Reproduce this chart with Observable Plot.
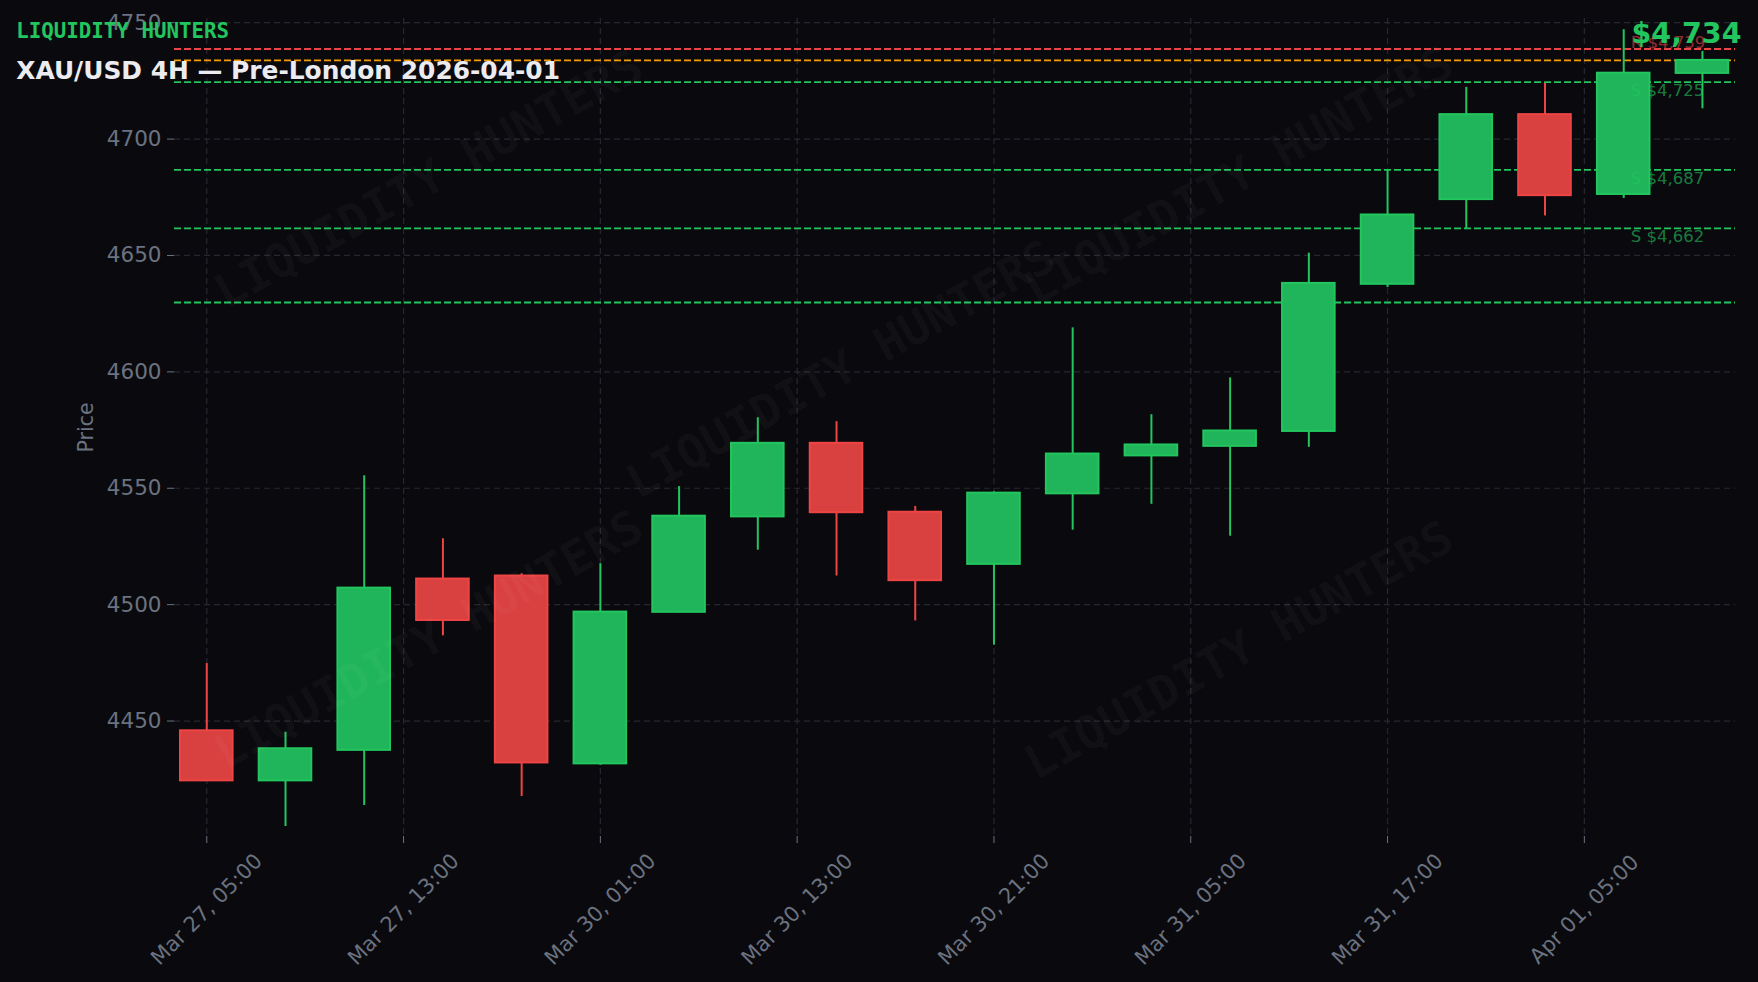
<!DOCTYPE html>
<html>
<head>
<meta charset="utf-8">
<script src="https://cdn.jsdelivr.net/npm/d3@7"></script>
<script src="https://cdn.jsdelivr.net/npm/@observablehq/plot@0.6"></script>
<style>
  html, body { margin: 0; padding: 0; background: #0a0a0e; }
  #chart { width: 1758px; height: 982px; overflow: hidden; }
</style>
</head>
<body>
<div id="chart"></div>
<script>
// ---- data ----
const times = ["Mar 27, 05:00","Mar 27, 09:00","Mar 27, 13:00","Mar 27, 17:00","Mar 27, 21:00",
  "Mar 30, 01:00","Mar 30, 05:00","Mar 30, 09:00","Mar 30, 13:00","Mar 30, 17:00","Mar 30, 21:00",
  "Mar 31, 01:00","Mar 31, 05:00","Mar 31, 09:00","Mar 31, 13:00","Mar 31, 17:00","Mar 31, 21:00",
  "Apr 01, 01:00","Apr 01, 05:00","Apr 01, 09:00"];
const open  = [4445.8, 4424.3, 4437.4, 4511.0, 4512.3, 4431.6, 4496.7, 4537.7, 4569.3, 4539.7,
               4517.3, 4547.6, 4563.9, 4568.0, 4574.4, 4637.6, 4674.0, 4710.5, 4676.2, 4728.2];
const high  = [4474.7, 4445.2, 4555.4, 4528.3, 4513.3, 4517.6, 4550.7, 4580.3, 4578.6, 4542.2,
               4548.5, 4618.9, 4581.6, 4597.4, 4651.0, 4686.6, 4722.2, 4723.9, 4747.0, 4737.6];
const low   = [4424.0, 4404.7, 4413.7, 4486.6, 4417.6, 4431.0, 4496.5, 4523.4, 4512.3, 4493.0,
               4482.6, 4532.0, 4543.1, 4529.4, 4567.6, 4636.2, 4661.5, 4667.0, 4674.5, 4713.0];
const close = [4424.3, 4438.1, 4507.1, 4493.2, 4432.0, 4496.8, 4538.0, 4569.3, 4539.5, 4510.3,
               4547.9, 4564.7, 4568.6, 4574.6, 4638.0, 4667.4, 4710.5, 4675.7, 4728.3, 4733.8];

const xTickPos    = [0, 2.5, 5, 7.5, 10, 12.5, 15, 17.5];
const xTickLabels = ["Mar 27, 05:00","Mar 27, 13:00","Mar 30, 01:00","Mar 30, 13:00",
                     "Mar 30, 21:00","Mar 31, 05:00","Mar 31, 17:00","Apr 01, 05:00"];
const yTicks = [4450, 4500, 4550, 4600, 4650, 4700, 4750];

const resistanceLevels = [4738.7];
const resistanceLabels = ["R $4,739"];
const supportLevels = [4724.5, 4686.8, 4661.6, 4629.8];
const supportLabels = ["S $4,725", "S $4,687", "S $4,662", null];
const currentPrice = 4733.8;
const currentLabel = "$4,734";

const brand = "LIQUIDITY HUNTERS";
const title = "XAU/USD 4H — Pre-London 2026-04-01";

// ---- styling / layout ----
const W = 1758, H = 982;
const ML = 174, MR = 23, MT = 18, MB = 146;
const FW = W - ML - MR, FH = H - MT - MB;
const GREEN = "#22c55e", GREEN_FILL = "#20b55a";
const RED = "#ef4444", RED_FILL = "#d94040";
const ORANGE = "#f59e0b";
const GRID = "#272730";
const AXIS = "#6b7280";
const BW = 0.668;
const FONT = "DejaVu Sans, sans-serif";
const MONO = "DejaVu Sans Mono, monospace";

const candles = open.map((o, i) => ({
  i, o, h: high[i], l: low[i], c: close[i], t: times[i], up: close[i] >= o
}));
const xTicks = xTickPos.map((p, k) => ({p, label: xTickLabels[k]}));
const levels = [
  ...resistanceLevels.map((v, k) => ({v, color: RED, label: resistanceLabels[k], kind: "R"})),
  {v: currentPrice, color: ORANGE, label: null, kind: "C"},
  ...supportLevels.map((v, k) => ({v, color: GREEN, label: supportLabels[k], kind: "S"}))
];
const labelX = 18.09;

// watermark placement as fractions of the frame
const wmSpots = [[0.163, 0.197], [0.163, 0.760], [0.427, 0.430], [0.682, 0.193], [0.682, 0.773]];

const marks = [
  Plot.ruleY(yTicks, {stroke: GRID, strokeWidth: 1.2, strokeDasharray: "6,4"}),
  Plot.ruleX(xTickPos, {stroke: GRID, strokeWidth: 1.2, strokeDasharray: "6,4"}),
  Plot.ruleY(levels, {y: "v", stroke: "color", strokeWidth: 1.8, strokeDasharray: "7,3"}),
  Plot.ruleX(candles, {x: "i", y1: "l", y2: "h", stroke: d => d.up ? GREEN : RED, strokeWidth: 2}),
  Plot.rect(candles, {
    x1: d => d.i - BW / 2, x2: d => d.i + BW / 2,
    y1: "o", y2: "c",
    fill: d => d.up ? GREEN_FILL : RED_FILL,
    stroke: d => d.up ? GREEN : RED, strokeWidth: 2
  }),
  // level labels
  Plot.text(levels.filter(d => d.label && d.kind === "S"), {
    x: () => labelX, y: "v", text: "label", textAnchor: "start", lineAnchor: "top", dy: 2,
    fill: GREEN, fillOpacity: 0.62, fontSize: 16.5, fontFamily: FONT
  }),
  Plot.text(levels.filter(d => d.label && d.kind === "R"), {
    x: () => labelX, y: "v", text: "label", textAnchor: "start", lineAnchor: "bottom", dy: -1,
    fill: RED, fillOpacity: 0.62, fontSize: 16.5, fontFamily: FONT
  }),
  // x tick labels (centered, rotated)
  Plot.text(xTicks, {
    x: "p", text: "label", frameAnchor: "bottom", dy: 73, rotate: -45,
    textAnchor: "middle", lineAnchor: "middle", fill: AXIS, fontSize: 21, fontFamily: FONT
  }),
  // y axis title
  Plot.text(["Price"], {
    frameAnchor: "left", dx: -88, rotate: -90, textAnchor: "middle", lineAnchor: "middle",
    fill: AXIS, fontSize: 20.5, fontFamily: FONT
  }),
  // brand & title
  Plot.text([brand], {
    frameAnchor: "top-left", dx: 15.7 - ML, dy: 31 - MT, textAnchor: "start", lineAnchor: "middle",
    fill: GREEN, fontSize: 20.8, fontWeight: "bold", fontFamily: MONO
  }),
  Plot.text([title], {
    frameAnchor: "top-left", dx: 15.7 - ML, dy: 70.6 - MT, textAnchor: "start", lineAnchor: "middle",
    fill: "#ececf0", fontSize: 24.9, fontWeight: "bold", fontFamily: FONT
  }),
  Plot.text([currentLabel], {
    frameAnchor: "top-right", dx: 6, dy: 33 - MT, textAnchor: "end", lineAnchor: "middle",
    fill: GREEN, fontSize: 28.5, fontWeight: "bold", fontFamily: FONT
  }),
  // watermarks on top
  ...wmSpots.map(([fx, fy]) => Plot.text([brand], {
    frameAnchor: "top-left", dx: fx * FW, dy: fy * FH, rotate: -29,
    textAnchor: "middle", lineAnchor: "middle",
    fill: "#ffffff", fillOpacity: 0.035, fontSize: 47, fontWeight: "bold", fontFamily: MONO
  }))
];

const chart = Plot.plot({
  width: W, height: H,
  marginLeft: ML, marginRight: MR, marginTop: MT, marginBottom: MB,
  style: {background: "#0a0a0e", color: AXIS, fontFamily: FONT, fontSize: "21.5px", overflow: "visible"},
  color: {type: "identity"},
  x: {domain: [-0.41, 19.42], ticks: xTickPos, tickFormat: () => "", tickSize: 7, label: null},
  y: {domain: [4400.4, 4751.8], ticks: yTicks, tickSize: 7, tickPadding: 6, tickFormat: d => String(d), label: null},
  marks
});
document.getElementById("chart").appendChild(chart);
</script>
</body>
</html>
